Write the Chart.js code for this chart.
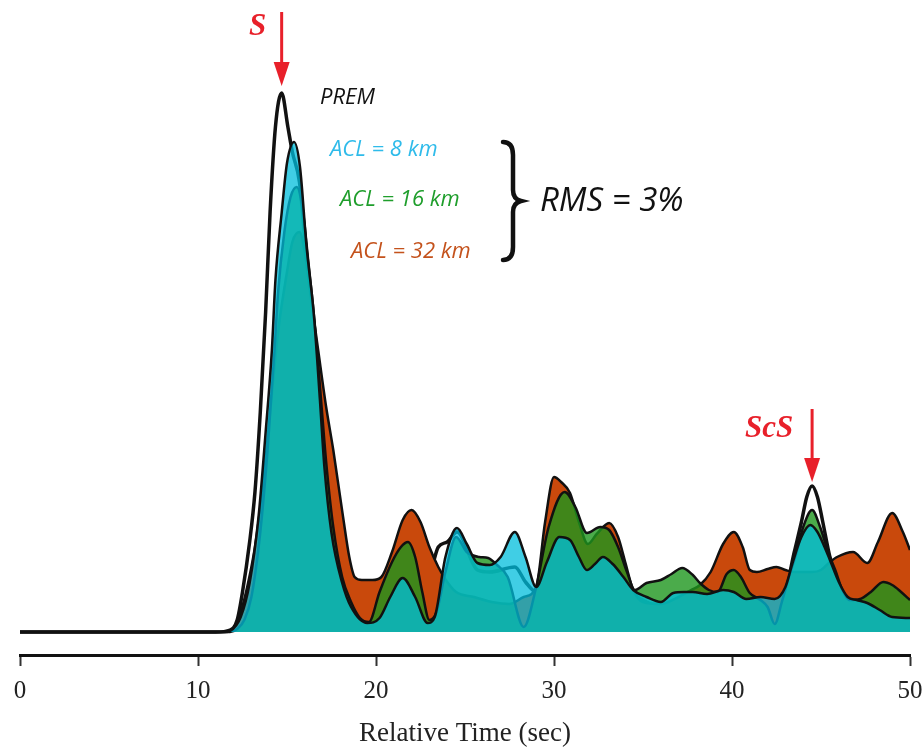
<!DOCTYPE html>
<html lang="en">
<head>
<meta charset="UTF-8">
<title>S / ScS envelopes</title>
<script src="https://cdn.jsdelivr.net/npm/chart.js@4.4.0/dist/chart.umd.min.js"></script>
<style>
  body { margin: 0; background: #fff; }
  #wrap { width: 923px; height: 751px; position: relative; }
</style>
</head>
<body>
<div id="wrap"><canvas id="grafico"></canvas></div>
<script>
    // envelope amplitudes (arbitrary units), time in sec
    var premT = [0, 11.0, 11.8, 12.2, 12.5, 12.9, 13.2, 13.5, 13.8, 14.05, 14.35, 14.7, 15.05, 15.3, 15.7, 16.0, 16.3, 16.7, 17.0, 17.4, 17.8, 18.3, 18.8, 19.5, 20.2, 21.5, 22.5, 23.0, 23.5, 24.0, 24.55, 25.7, 26.4, 27.8, 28.4, 29.0, 30.3, 30.9, 31.85, 32.75, 34.45, 35.2, 36.0, 37.3, 38.6, 39.5, 40.1, 41.0, 42.0, 43.0, 43.5, 43.9, 44.2, 44.5, 44.8, 45.1, 45.5, 46.0, 46.5, 47.6, 49.0, 50];
    var premV = [0, 0, 2, 12, 40, 90, 140, 220, 320, 420, 505, 539, 505, 480, 450, 395, 340, 270, 180, 110, 60, 30, 16, 8, 10, 45, 40, 55, 85, 90, 100, 62, 60, 65, 50, 40, 88, 85, 55, 68, 38, 30, 26, 35, 33, 37, 35, 28, 28, 42, 80, 110, 135, 146, 135, 110, 75, 45, 30, 25, 12, 12];

    var acl8T = [0, 11.5, 11.8, 12.4, 12.9, 13.4, 13.8, 14.15, 14.35, 14.7, 15.0, 15.4, 15.73, 16.1, 16.5, 16.85, 17.1, 17.5, 18.1, 18.6, 19.5, 20.2, 20.8, 21.5, 22.2, 22.9, 23.3, 23.9, 24.55, 25.1, 25.7, 26.4, 27.0, 27.8, 28.4, 29.0, 29.6, 30.3, 30.9, 31.4, 31.85, 32.3, 32.75, 33.3, 33.9, 34.45, 35.2, 36.0, 36.7, 37.3, 37.8, 38.6, 39.5, 40.1, 40.8, 41.6, 42.4, 43.0, 43.4, 43.9, 44.4, 44.8, 45.2, 45.5, 46.0, 46.5, 47.0, 47.6, 48.3, 49.0, 50];
    var acl8V = [0, 0, 1, 15, 49, 115, 200, 282, 352, 419, 469, 490, 465, 385, 319, 232, 165, 99, 49, 25, 9, 14, 35, 54, 35, 9, 15, 75, 104, 88, 69, 67, 75, 100, 75, 45, 70, 95, 92, 75, 62, 68, 75, 68, 55, 42, 35, 30, 39, 40, 40, 38, 42, 40, 33, 35, 33, 45, 69, 95, 107, 100, 85, 72, 50, 35, 32, 29, 22, 15, 14];

    var acl16T = [0, 11.8, 12.2, 12.6, 13.0, 13.5, 13.9, 14.3, 14.5, 14.85, 15.2, 15.55, 15.9, 16.2, 16.55, 16.9, 17.2, 17.6, 18.1, 18.6, 19.1, 19.6, 20.2, 20.9, 21.4, 21.8, 22.2, 22.6, 23.0, 23.4, 23.9, 24.5, 25.1, 25.8, 26.3, 26.8, 27.4, 28.3, 29.0, 29.7, 30.6, 31.2, 31.85, 32.6, 33.1, 33.6, 34.1, 34.55, 35.2, 36.0, 36.6, 37.2, 37.8, 38.2, 38.7, 39.2, 39.7, 40.1, 40.5, 41.0, 41.6, 42.0, 42.4, 42.8, 43.2, 43.6, 44.0, 44.5, 44.95, 45.4, 45.8, 46.2, 46.6, 47.2, 47.8, 48.5, 49.0, 49.5, 50];
    var acl16V = [0, 0, 3, 12, 35, 100, 180, 282, 340, 400, 435, 445, 420, 370, 310, 235, 170, 105, 55, 30, 14, 10, 40, 70, 85, 90, 75, 40, 12, 20, 60, 95, 80, 75, 74, 67, 55, 5, 45, 105, 140, 125, 99, 105, 102, 85, 60, 42, 49, 52, 58, 64, 57, 49, 42, 40, 58, 62, 55, 39, 32, 25, 8, 30, 55, 78, 105, 122, 105, 80, 62, 42, 32, 33, 40, 50, 47, 40, 32];

    var acl32T = [0, 11.6, 12.0, 12.4, 12.8, 13.2, 13.6, 14.0, 14.5, 15.0, 15.3, 15.7, 16.0, 16.3, 16.75, 17.2, 17.6, 18.15, 18.5, 18.8, 19.2, 19.8, 20.3, 20.9, 21.5, 22.0, 22.5, 23.0, 23.5, 24.0, 24.5, 25.5, 26.5, 27.5, 28.3, 29.0, 29.5, 30.0, 30.4, 30.9, 31.4, 31.9, 32.4, 33.1, 33.6, 34.0, 34.45, 35.0, 36.0, 37.0, 37.7, 38.2, 38.8, 39.5, 40.1, 40.6, 41.0, 41.4, 42.0, 42.5, 43.0, 43.5, 44.0, 44.5, 45.0, 45.5, 45.9, 46.8, 47.6, 48.2, 49.0, 49.6, 50];
    var acl32V = [0, 0, 4, 20, 48, 85, 140, 210, 300, 360, 390, 400, 380, 340, 282, 225, 182, 115, 75, 55, 52, 52, 55, 80, 112, 122, 110, 85, 65, 50, 40, 35, 30, 28, 35, 45, 110, 155, 150, 139, 110, 88, 98, 109, 95, 70, 42, 30, 28, 35, 42, 47, 60, 88, 100, 85, 62, 60, 63, 65, 62, 60, 60, 60, 62, 70, 75, 80, 69, 90, 119, 100, 82];

    var xTicks = [0, 10, 20, 30, 40, 50];
    var chegadaS = 14.7;    // S arrival (sec)
    var chegadaScS = 44.5;  // ScS arrival (sec)

    function pontos(t, v) {
        return t.map(function (x, i) { return { x: x, y: v[i] }; });
    }

    function seta(ctx, x, y0, y1) {
        ctx.strokeStyle = '#e8202a';
        ctx.fillStyle = '#e8202a';
        ctx.lineWidth = 3;
        ctx.beginPath();
        ctx.moveTo(x, y0);
        ctx.lineTo(x, y1 - 18);
        ctx.stroke();
        ctx.beginPath();
        ctx.moveTo(x - 8, y1 - 24);
        ctx.lineTo(x + 8, y1 - 24);
        ctx.lineTo(x, y1);
        ctx.closePath();
        ctx.fill();
    }

    const notas = {
        id: 'notas',
        afterDatasetsDraw(chart) {
            const ctx = chart.ctx;
            const xs = chart.scales.x;
            ctx.save();
            seta(ctx, xs.getPixelForValue(chegadaS), 12, 86);
            seta(ctx, xs.getPixelForValue(chegadaScS), 409, 482);

            ctx.textBaseline = 'alphabetic';
            ctx.textAlign = 'left';
            ctx.fillStyle = '#e8202a';
            ctx.font = 'italic bold 31px "Liberation Serif"';
            ctx.fillText('S', 249, 35);
            ctx.fillText('ScS', 745, 437);

            ctx.font = 'italic 22px "Open Sans"';
            ctx.fillStyle = '#111';
            ctx.fillText('PREM', 320, 104);
            ctx.fillStyle = '#2fbbea';
            ctx.fillText('ACL = 8 km', 330, 156);
            ctx.fillStyle = '#1f9e2c';
            ctx.fillText('ACL = 16 km', 340, 206);
            ctx.fillStyle = '#c4521c';
            ctx.fillText('ACL = 32 km', 351, 258);

            // brace
            ctx.strokeStyle = '#111';
            ctx.lineWidth = 4.5;
            ctx.lineCap = 'round';
            ctx.beginPath();
            ctx.moveTo(503, 142);
            ctx.quadraticCurveTo(513, 142, 513, 155);
            ctx.lineTo(513, 190);
            ctx.quadraticCurveTo(513, 199, 521, 201);
            ctx.quadraticCurveTo(513, 203, 513, 212);
            ctx.lineTo(513, 247);
            ctx.quadraticCurveTo(513, 260, 503, 260);
            ctx.stroke();

            ctx.fillStyle = '#111';
            ctx.font = 'italic 33px "Open Sans"';
            ctx.fillText('RMS = 3%', 540, 211);
            ctx.restore();
        }
    };

    var ctx = document.getElementById('grafico');
    var grafico = new Chart(ctx, {
        type: 'line',
        data: {
            datasets: [
                {
                    label: 'ACL = 8 km',
                    data: pontos(acl8T, acl8V),
                    borderColor: '#111',
                    borderWidth: 2.5,
                    backgroundColor: 'rgba(0,190,220,0.75)',
                    fill: 'origin',
                    order: 1
                },
                {
                    label: 'ACL = 16 km',
                    data: pontos(acl16T, acl16V),
                    borderColor: '#111',
                    borderWidth: 2.5,
                    backgroundColor: 'rgba(30,150,30,0.8)',
                    fill: 'origin',
                    order: 2
                },
                {
                    label: 'ACL = 32 km',
                    data: pontos(acl32T, acl32V),
                    borderColor: '#111',
                    borderWidth: 2.5,
                    backgroundColor: '#c9490c',
                    fill: 'origin',
                    order: 3
                },
                {
                    label: 'PREM',
                    data: pontos(premT, premV),
                    borderColor: '#111',
                    borderWidth: 3.5,
                    fill: false,
                    order: 4
                }
            ]
        },
        options: {
            responsive: true,
            maintainAspectRatio: false,
            animation: false,
            devicePixelRatio: 1,
            layout: { padding: { left: 20, right: 13, top: 0, bottom: 0 } },
            elements: {
                point: { radius: 0 },
                line: { cubicInterpolationMode: 'monotone', borderJoinStyle: 'round' }
            },
            plugins: {
                legend: { display: false },
                tooltip: { enabled: false }
            },
            scales: {
                x: {
                    type: 'linear',
                    min: 0,
                    max: 50,
                    afterFit: function (s) { s.height = 96; s.paddingLeft = 0; s.paddingRight = 0; },
                    afterBuildTicks: function (s) { s.ticks = xTicks.map(function (v) { return { value: v }; }); },
                    border: { display: true, color: '#111', width: 3 },
                    grid: { drawOnChartArea: false, tickLength: 11, tickColor: '#333', tickWidth: 2 },
                    ticks: {
                        color: '#222',
                        maxRotation: 0,
                        padding: 10,
                        font: { family: 'Liberation Serif', size: 25 }
                    },
                    title: {
                        display: true,
                        text: 'Relative Time (sec)',
                        color: '#222',
                        font: { family: 'Liberation Serif', size: 27 },
                        padding: { top: 0, bottom: 1 }
                    }
                },
                y: { display: false, min: -23, max: 632 }
            }
        },
        plugins: [notas]
    });
</script>
</body>
</html>
